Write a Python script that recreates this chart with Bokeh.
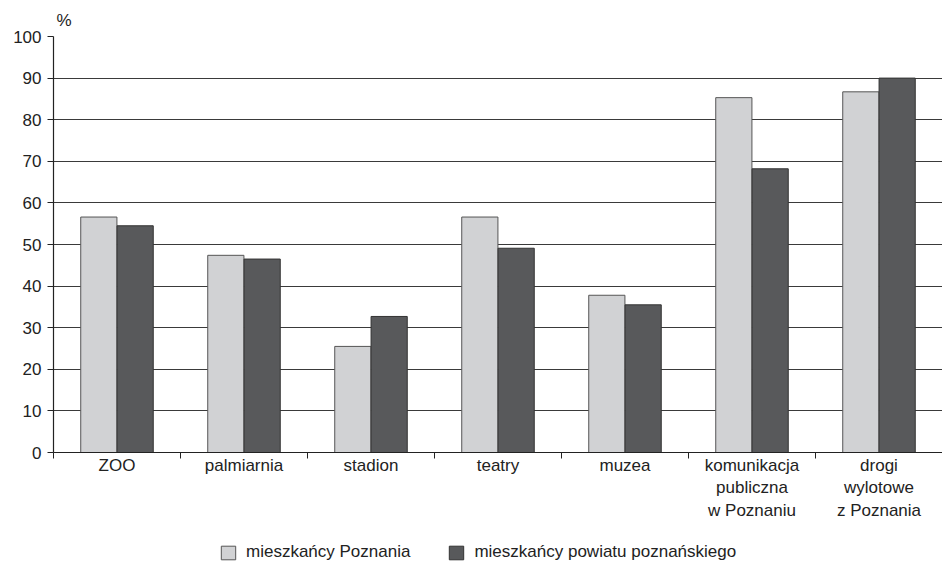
from bokeh.plotting import figure
from bokeh.models import ColumnDataSource, FixedTicker, Range1d, Legend, LegendItem
from bokeh.layouts import column
from bokeh.embed import file_html
from bokeh.resources import INLINE

categories = ["ZOO", "palmiarnia", "stadion", "teatry", "muzea",
              "komunikacja\npubliczna\nw Poznaniu", "drogi\nwylotowe\nz Poznania"]
poznan = [56.6, 47.4, 25.5, 56.6, 37.8, 85.3, 86.7]
powiat = [54.5, 46.5, 32.7, 49.1, 35.5, 68.2, 90.0]
series_names = ["mieszkańcy Poznania", "mieszkańcy powiatu poznańskiego"]
y_ticks = list(range(0, 101, 10))

FONT = "Liberation Sans"
LIGHT = "#d1d2d4"
DARK = "#58595b"
LIGHT_EDGE = "#555555"
DARK_EDGE = "#333333"

n = len(categories)
centers = [i + 0.5 for i in range(n)]
src = ColumnDataSource(dict(
    x1=[c - 0.143 for c in centers], x2=[c + 0.143 for c in centers],
    poznan=poznan, powiat=powiat))

p = figure(width=942, height=532, output_backend="svg", toolbar_location=None,
           x_range=Range1d(0, n), y_range=Range1d(0, 100),
           min_border_left=53, min_border_right=0, min_border_top=36, min_border_bottom=80)
p.outline_line_color = None
p.xgrid.visible = False
p.ygrid.grid_line_color = "#3a3a3a"
p.ygrid.grid_line_width = 1.2
p.ygrid.ticker = FixedTicker(ticks=y_ticks)

p.title.text = "%"
p.title.align = "left"
p.title.offset = 3
p.title.standoff = 14
p.title.text_font = FONT
p.title.text_font_size = "17px"
p.title.text_font_style = "normal"
p.title.text_color = "#222222"

p.vbar(x="x1", top="poznan", width=0.285, source=src, fill_color=LIGHT,
       line_color=LIGHT_EDGE, line_width=1)
p.vbar(x="x2", top="powiat", width=0.285, source=src, fill_color=DARK,
       line_color=DARK_EDGE, line_width=1)

# y axis
ya = p.yaxis[0]
ya.ticker = FixedTicker(ticks=y_ticks)
ya.axis_line_color = "#222222"
ya.axis_line_width = 1.2
ya.major_tick_line_color = "#222222"
ya.major_tick_out = 6
ya.major_tick_in = 0
ya.minor_tick_line_color = None
ya.major_label_text_font = FONT
ya.major_label_text_font_size = "17px"
ya.major_label_text_color = "#222222"
ya.major_label_standoff = 6

# x axis
xa = p.xaxis[0]
xa.ticker = FixedTicker(ticks=centers, minor_ticks=list(range(0, n + 1)))
xa.major_label_overrides = {c: lab for c, lab in zip(centers, categories)}
xa.axis_line_color = "#222222"
xa.axis_line_width = 1.2
xa.major_tick_line_color = None
xa.major_tick_out = 0
xa.major_tick_in = 0
xa.minor_tick_line_color = "#222222"
xa.minor_tick_out = 6
xa.minor_tick_in = 0
xa.major_label_text_font = FONT
xa.major_label_text_font_size = "17px"
xa.major_label_text_color = "#222222"
xa.major_label_standoff = -3

# legend strip: its renderers are hidden, only their legend glyphs are drawn
lf = figure(width=942, height=30, output_backend="svg", toolbar_location=None,
            x_range=Range1d(0, n), y_range=Range1d(0, 100),
            x_axis_type=None, y_axis_type=None,
            min_border_left=0, min_border_right=0, min_border_top=0, min_border_bottom=0)
lf.outline_line_color = None
lf.grid.visible = False
lr1 = lf.vbar(x="x1", top="poznan", width=0.285, source=src, fill_color=LIGHT,
              line_color=LIGHT_EDGE)
lr2 = lf.vbar(x="x2", top="powiat", width=0.285, source=src, fill_color=DARK,
              line_color=DARK_EDGE)
lr1.visible = False
lr2.visible = False

legend = Legend(items=[LegendItem(label=series_names[0], renderers=[lr1]),
                       LegendItem(label=series_names[1], renderers=[lr2])],
                orientation="horizontal", location=(166, 0))
legend.padding = 0
legend.margin = 0
legend.spacing = 37
legend.border_line_color = None
legend.background_fill_alpha = 0
legend.inactive_fill_alpha = 0
legend.glyph_width = 18
legend.glyph_height = 17
legend.label_height = 17
legend.label_standoff = 9
legend.label_text_font = FONT
legend.label_text_font_size = "17px"
legend.label_text_color = "#222222"
legend.label_text_baseline = "middle"
lf.add_layout(legend, "center")

layout = column(p, lf, spacing=0)
open("out.html", "w").write(file_html(layout, INLINE))
